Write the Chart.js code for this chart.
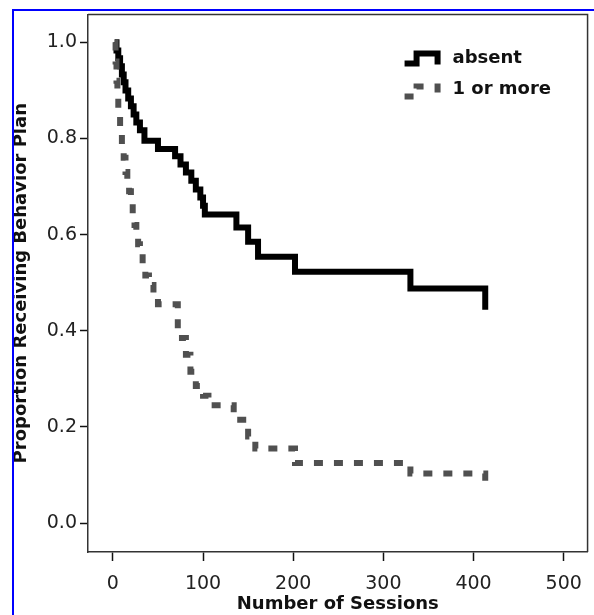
<!DOCTYPE html>
<html>
<head>
<meta charset="utf-8">
<script src="https://cdn.jsdelivr.net/npm/chart.js@4"></script>
<style>
  html, body { margin: 0; padding: 0; background: #fff; }
  #wrap { position: relative; width: 594px; height: 615px; overflow: hidden; }
  .edge { position: absolute; background: #0000ff; }
</style>
</head>
<body>
<div id="wrap">
  <canvas id="kmChart" width="594" height="615"></canvas>
  <div class="edge" style="left:12px; top:9px; width:2px; height:620px;"></div>
  <div class="edge" style="left:12px; top:9px; width:600px; height:2px;"></div>
</div>
<script>
// Kaplan-Meier style curves
const absentX = [2, 4, 6, 8, 10, 12, 14, 17, 20, 23, 26, 30, 35, 50, 69, 75, 81, 87, 92, 97, 100, 102, 137, 150, 161, 202, 330, 413];
const absentY = [1.0, 0.983, 0.967, 0.95, 0.933, 0.917, 0.9, 0.883, 0.867, 0.85, 0.833, 0.817, 0.795, 0.778, 0.763, 0.746, 0.729, 0.712, 0.694, 0.677, 0.66, 0.642, 0.615, 0.585, 0.554, 0.523, 0.488, 0.444];

const oneOrMoreX = [2, 3, 4, 5, 6, 8, 10, 12, 14, 16, 18, 20, 22, 24, 26, 28, 30, 33, 36, 40, 45, 50, 72, 81, 86, 92, 100, 106, 134, 150, 158, 202, 330, 413];
const oneOrMoreY = [1.0, 0.96, 0.92, 0.885, 0.85, 0.815, 0.785, 0.76, 0.73, 0.71, 0.69, 0.665, 0.64, 0.62, 0.6, 0.58, 0.56, 0.54, 0.515, 0.495, 0.475, 0.455, 0.385, 0.35, 0.315, 0.285, 0.265, 0.245, 0.215, 0.18, 0.155, 0.125, 0.103, 0.083];

const xTicks = [0, 100, 200, 300, 400, 500];
const yTicks = [0.0, 0.2, 0.4, 0.6, 0.8, 1.0];

const FONT = "'DejaVu Sans', sans-serif";

// zip x/y arrays into points
function toPoints(xs, ys) {
  return xs.map((x, i) => ({ x: x, y: ys[i] }));
}

// Box around the plot (axes give left and bottom)
const frameBox = {
  id: "frameBox",
  afterDatasetsDraw(chart) {
    const { ctx, chartArea: a } = chart;
    ctx.save();
    ctx.strokeStyle = "#333";
    ctx.lineWidth = 1.5;
    ctx.beginPath();
    ctx.moveTo(a.left, a.top);
    ctx.lineTo(a.right, a.top);
    ctx.lineTo(a.right, a.bottom);
    ctx.stroke();
    ctx.restore();
  },
};

// Legend inside the plot, top right, with little step symbols
const stepLegend = {
  id: "stepLegend",
  afterDraw(chart) {
    const { ctx, chartArea: a } = chart;
    ctx.save();
    chart.data.datasets.forEach((ds, i) => {
      const x0 = a.right - 183;
      const yLow = a.top + 49 + i * 33;
      const yHigh = yLow - 10;
      ctx.strokeStyle = ds.borderColor;
      ctx.lineWidth = ds.borderWidth;
      ctx.lineJoin = "miter";
      ctx.lineCap = "butt";
      ctx.setLineDash(ds.borderDash || []);
      ctx.beginPath();
      ctx.moveTo(x0, yLow);
      ctx.lineTo(x0 + 12, yLow);
      ctx.lineTo(x0 + 12, yHigh);
      ctx.lineTo(x0 + 33, yHigh);
      ctx.lineTo(x0 + 33, yLow + 1);
      ctx.stroke();
      ctx.setLineDash([]);
      ctx.fillStyle = "#111";
      ctx.font = "bold 18px " + FONT;
      ctx.textBaseline = "middle";
      ctx.textAlign = "left";
      ctx.fillText(ds.label, a.right - 135, a.top + 44 + i * 31);
    });
    ctx.restore();
  },
};

new Chart(document.getElementById("kmChart"), {
  type: "line",
  data: {
    datasets: [
      {
        label: "absent",
        data: toPoints(absentX, absentY),
        borderColor: "#000000",
        borderWidth: 6,
        stepped: true,
        pointRadius: 0,
        fill: false,
        borderJoinStyle: "miter",
        borderCapStyle: "butt",
        order: 1,
      },
      {
        label: "1 or more",
        data: toPoints(oneOrMoreX, oneOrMoreY),
        borderColor: "#505050",
        borderWidth: 6,
        borderDash: [9, 11],
        stepped: true,
        pointRadius: 0,
        fill: false,
        borderJoinStyle: "miter",
        borderCapStyle: "butt",
        order: 0,
      },
    ],
  },
  options: {
    responsive: false,
    animation: false,
    layout: { padding: { top: 14, right: 4, left: 0, bottom: 0 } },
    plugins: {
      legend: { display: false },
      tooltip: { enabled: false },
    },
    scales: {
      x: {
        type: "linear",
        min: -27.6,
        max: 526.5,
        afterBuildTicks: (axis) => {
          axis.ticks = xTicks.map((v) => ({ value: v }));
        },
        afterFit: (axis) => {
          axis.height = 63;
        },
        grid: {
          drawOnChartArea: false,
          drawTicks: true,
          tickLength: 9,
          tickWidth: 1.5,
          tickColor: "#111",
        },
        border: { display: true, color: "#333", width: 1.5 },
        ticks: {
          color: "#222",
          padding: 12,
          maxRotation: 0,
          font: { family: FONT, size: 19 },
          callback: (v) => String(v),
        },
        title: {
          display: true,
          text: "Number of Sessions",
          color: "#111",
          font: { family: FONT, size: 18, weight: "bold" },
          padding: { top: 0, bottom: 0 },
        },
      },
      y: {
        type: "linear",
        min: -0.06,
        max: 1.058,
        afterBuildTicks: (axis) => {
          axis.ticks = yTicks.map((v) => ({ value: v }));
        },
        afterFit: (axis) => {
          axis.width = 88;
        },
        grid: {
          drawOnChartArea: false,
          drawTicks: true,
          tickLength: 8,
          tickWidth: 1.5,
          tickColor: "#111",
        },
        border: { display: true, color: "#333", width: 1.5 },
        ticks: {
          color: "#222",
          padding: 3,
          font: { family: FONT, size: 19 },
          callback: (v) => Number(v).toFixed(1),
        },
        title: {
          display: true,
          text: "Proportion Receiving Behavior Plan",
          color: "#111",
          font: { family: FONT, size: 18, weight: "bold" },
          padding: { top: 11, bottom: 0 },
        },
      },
    },
  },
  plugins: [frameBox, stepLegend],
});
</script>
</body>
</html>
